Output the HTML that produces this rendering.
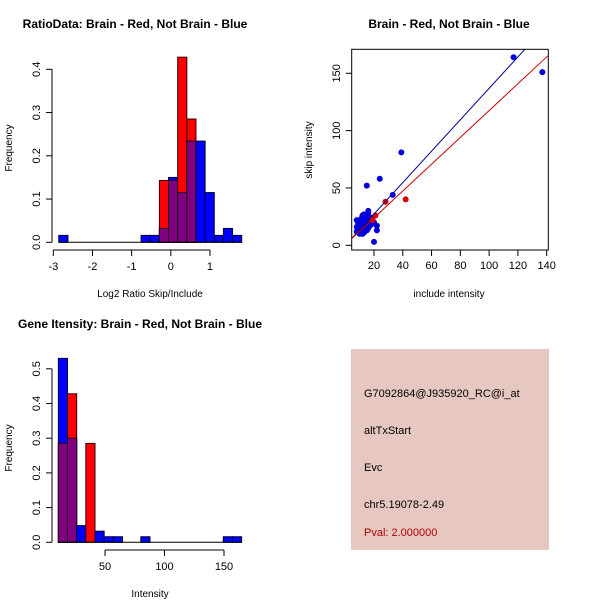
<!DOCTYPE html>
<html><head><meta charset="utf-8"><style>
body{margin:0;background:#fff;}
svg{display:block;font-family:"Liberation Sans",sans-serif;}
</style></head><body>
<svg id="s" width="600" height="600" viewBox="0 0 600 600">
<rect width="600" height="600" fill="#fff"/>
<rect x="351" y="349" width="198" height="201" fill="#e6c8c0"/>
<g font-size="11" fill="#000">
<text x="364" y="397">G7092864@J935920_RC@i_at</text>
<text x="364" y="434">altTxStart</text>
<text x="364" y="471">Evc</text>
<text x="364" y="508">chr5.19078-2.49</text>
<text x="364" y="536" fill="#b00000">Pval: 2.000000</text>
</g>
</svg>
<script>
// Ratio histogram data
const ratioStart = -2.86, ratioWidth = 0.2335;
const ratioBlue = [0.016,0,0,0,0,0,0,0,0,0.016,0.016,0.032,0.15,0.115,0.234,0.234,0.115,0.016,0.032,0.016];
const ratioRed  = [0,0,0,0,0,0,0,0,0,0,0,0.143,0.143,0.428,0.285,0,0,0,0,0];
const ratioXTicks = [-3,-2,-1,0,1];
const ratioYTicks = [0,0.1,0.2,0.3,0.4];
// Intensity histogram data
const intStart = 10.8, intWidth = 7.7;
const intBlue = [0.53,0.30,0.048,0,0.032,0.016,0.016,0,0,0.016,0,0,0,0,0,0,0,0,0.016,0.016];
const intRed  = [0.285,0.428,0,0.285,0,0,0,0,0,0,0,0,0,0,0,0,0,0,0,0];
const intXTicks = [50,100,150];
const intYTicks = [0,0.1,0.2,0.3,0.4,0.5];
// Scatter data
const blueX = [117,137,39,24,15,33,20,22,22,16,8,9,10,11,12,13,14,15,16,17,18,9,10,11,12,13,14,15,16,17,18,19,8,9,10,11,12,13,14,15,16,17,12,13,14,15,10,11,9,8,12,13,16,18,19,20,11,14,15];
const blueY = [164,151,81,58,52,44,3,13,17,30,12,14,13,15,16,18,20,17,19,21,22,17,19,21,22,24,25,27,23,20,18,20,22,21,10,11,12,14,16,13,15,17,26,27,22,24,12,13,19,16,10,11,28,24,22,20,23,21,25];
const redX = [42,21,19,28];
const redY = [40,26,22,38];
const blueFit = [3,125]; const blueFitSlope = 1.37; const blueFitIntercept = -0.1;
const redFit = [3,141]; const redFitSlope = 1.17; const redFitIntercept = 0.5;
const xTicksS = [20,40,60,80,100,120,140];
const yTicksS = [0,50,100,150];

const NS='http://www.w3.org/2000/svg';
const svg=document.getElementById('s');
function mk(t,a,p){const e=document.createElementNS(NS,t);for(const k in a)e.setAttribute(k,a[k]);(p||svg).appendChild(e);return e;}
function txt(x,y,s,opt,p){const e=mk('text',Object.assign({x:x,y:y,'font-size':11,'text-anchor':'middle'},opt||{}),p);e.textContent=s;return e;}

function hist(cfg){
  const g=mk('g',{});
  
  
  const X=v=>cfg.x0+(v-cfg.xa)*cfg.xs, Y=v=>cfg.y0-v*cfg.ys;
  for(let i=0;i<cfg.blue.length;i++){
    const l=X(cfg.start+i*cfg.w), r=X(cfg.start+(i+1)*cfg.w);
    const b=cfg.blue[i], rd=cfg.red[i], m=Math.min(b,rd);
    if(b>0){const e=mk('rect',{x:l,y:Y(b),width:r-l,height:Y(0)-Y(b),fill:'#0000ff',stroke:'#000033','stroke-width':1},g);
      }
    if(rd>0){const e=mk('rect',{x:l,y:Y(rd),width:r-l,height:Y(0)-Y(rd),fill:'#ff0000',stroke:'#330000','stroke-width':1},g);
      }
    if(m>0){const e=mk('rect',{x:l,y:Y(m),width:r-l,height:Y(0)-Y(m),fill:'#800080',stroke:'#220022','stroke-width':1},g);
      }
  }
  mk('line',{x1:X(cfg.start),x2:X(cfg.start+cfg.blue.length*cfg.w),y1:Y(0),y2:Y(0),stroke:'#000'},g);
  const ya=mk('g',{},g);
  const yt=cfg.yt;
  mk('line',{x1:cfg.yax,x2:cfg.yax,y1:Y(yt[0]),y2:Y(yt[yt.length-1]),stroke:'#000'},ya);
  yt.forEach(v=>{mk('line',{x1:cfg.yax,x2:cfg.yax-6,y1:Y(v),y2:Y(v),stroke:'#000'},ya);
    txt(cfg.yax-12,Y(v),v.toFixed(1),{transform:`rotate(-90 ${cfg.yax-12} ${Y(v)})`,'font-size':11},ya);});
  const xa=mk('g',{},g);
  const xt=cfg.xt;
  mk('line',{x1:X(xt[0]),x2:X(xt[xt.length-1]),y1:cfg.xay,y2:cfg.xay,stroke:'#000'},xa);
  xt.forEach(v=>{mk('line',{x1:X(v),x2:X(v),y1:cfg.xay,y2:cfg.xay+6,stroke:'#000'},xa);
    txt(X(v),cfg.xay+20,String(v),{'font-size':11},xa);});
  const t=txt(cfg.tx,cfg.ty,cfg.title,{'font-weight':'bold','font-size':12},g);
  const xl=txt(cfg.xlx,cfg.xly,cfg.xlabel,{'font-size':10},g);
  const yl=txt(12,cfg.yly,'Frequency',{'font-size':10,transform:`rotate(-90 12 ${cfg.yly})`},g);
}
hist({name:'ratio-histogram',start:ratioStart,w:ratioWidth,blue:ratioBlue,red:ratioRed,xa:-3,x0:53.3,xs:39.17,y0:242.3,ys:432.5,
  yax:52,xay:250,yt:ratioYTicks,xt:ratioXTicks,title:'RatioData: Brain - Red, Not Brain - Blue',tx:135,ty:28,xlabel:'Log2 Ratio Skip/Include',xlx:150,xly:297,yly:148});
hist({name:'intensity-histogram',start:intStart,w:intWidth,blue:intBlue,red:intRed,xa:0,x0:45.5,xs:1.19,y0:542.3,ys:347,
  yax:52,xay:550,yt:intYTicks,xt:intXTicks,title:'Gene Itensity: Brain - Red, Not Brain - Blue',tx:140,ty:328,xlabel:'Intensity',xlx:150,xly:597,yly:448});

(function(){
  const g=mk('g',{});
  const X=v=>374+(v-20)*1.439, Y=v=>245.3-v*1.1467;
  const cp=mk('clipPath',{id:'cp'},g);mk('rect',{x:351.7,y:49.3,width:196.6,height:200.7},cp);
  const box=mk('rect',{x:351.7,y:49.3,width:196.6,height:200.7,fill:'none',stroke:'#000'},g);
  
  const pts=mk('g',{'clip-path':'url(#cp)'},g);
  for(let i=0;i<blueX.length;i++){const c=mk('circle',{cx:X(blueX[i]),cy:Y(blueY[i]),r:3,fill:'#0000dd'},pts);
    }
  for(let i=0;i<redX.length;i++){const c=mk('circle',{cx:X(redX[i]),cy:Y(redY[i]),r:3,fill:'#dd0000'},pts);
    }
  const bl=mk('line',{x1:X(blueFit[0]),y1:Y(blueFitIntercept+blueFitSlope*blueFit[0]),x2:X(blueFit[1]),y2:Y(blueFitIntercept+blueFitSlope*blueFit[1]),stroke:'#000099','stroke-width':1},pts);
  
  const rl=mk('line',{x1:X(redFit[0]),y1:Y(redFitIntercept+redFitSlope*redFit[0]),x2:X(redFit[1]),y2:Y(redFitIntercept+redFitSlope*redFit[1]),stroke:'#cc0000','stroke-width':1},pts);
  
  const xa=mk('g',{},g);
  xTicksS.forEach(v=>{mk('line',{x1:X(v),x2:X(v),y1:250,y2:256,stroke:'#000'},xa);txt(X(v),269,String(v),{'font-size':11},xa);});
  const ya=mk('g',{},g);
  yTicksS.forEach(v=>{mk('line',{x1:351.7,x2:345.7,y1:Y(v),y2:Y(v),stroke:'#000'},ya);
    txt(340,Y(v),String(v),{'font-size':11,transform:`rotate(-90 340 ${Y(v)})`},ya);});
  const t=txt(449,28,'Brain - Red, Not Brain - Blue',{'font-weight':'bold','font-size':12},g);
  const xl=txt(449,297,'include intensity',{'font-size':10},g);
  const yl=txt(312,150,'skip intensity',{'font-size':10,transform:'rotate(-90 312 150)'},g);
})();
</script>
</body></html>
